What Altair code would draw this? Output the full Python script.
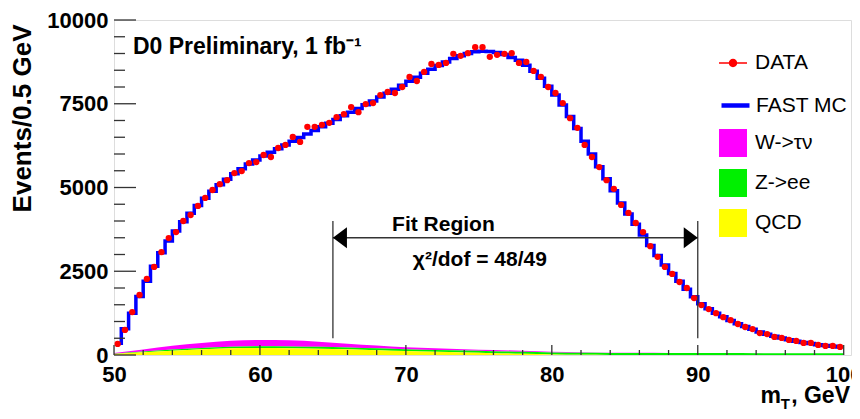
import altair as alt
import pandas as pd

# ---------------- data ----------------
bin_width = 0.5
mt_centers = [50.25 + bin_width * i for i in range(100)]

data_counts = [
    330, 750, 1280, 1790, 2270, 2630, 3070, 3490, 3670, 4000,
    4180, 4450, 4690, 4925, 5100, 5220, 5430, 5490, 5730, 5760,
    5970, 5910, 6180, 6270, 6510, 6360, 6810, 6810, 6870, 6930,
    7100, 7190, 7400, 7250, 7490, 7520, 7760, 7850, 7820, 8000,
    8300, 8180, 8450, 8690, 8660, 8720, 8990, 8930, 9010, 9190,
    9190, 8900, 8960, 8990, 9010, 8720, 8750, 8480, 8300, 8000,
    7820, 7520, 7070, 6780, 6270, 5910, 5610, 5220, 4960, 4480,
    4240, 3940, 3670, 3250, 2930, 2630, 2420, 2180, 2000, 1700,
    1490, 1370, 1250, 1130, 1040, 925, 835, 775, 655, 625,
    540, 510, 450, 420, 360, 360, 300, 270, 270, 240,
]

mc_counts = [
    350, 780, 1250, 1750, 2200, 2650, 3050, 3400, 3700, 3980,
    4230, 4460, 4680, 4890, 5080, 5250, 5410, 5560, 5700, 5820,
    5940, 6050, 6160, 6270, 6380, 6490, 6600, 6700, 6810, 6920,
    7030, 7140, 7250, 7360, 7470, 7580, 7700, 7810, 7930, 8050,
    8170, 8290, 8410, 8530, 8640, 8750, 8850, 8930, 9000, 9050,
    9070, 9060, 9030, 8970, 8880, 8800, 8650, 8470, 8260, 8020,
    7760, 7460, 7120, 6760, 6380, 6000, 5620, 5260, 4900, 4540,
    4210, 3900, 3580, 3270, 2970, 2690, 2430, 2200, 1960, 1740,
    1530, 1380, 1250, 1140, 1030, 930, 850, 770, 690, 620,
    560, 505, 455, 410, 370, 340, 305, 280, 260, 240,
]

bkg_mt = [50, 52, 54, 56, 58, 60, 62, 64, 66, 68, 70, 72, 74, 76, 78,
          80, 82, 84, 86, 88, 90, 92, 94, 96, 98, 100]
qcd = [30, 80, 130, 170, 200, 210, 205, 190, 170, 145, 120, 95, 75, 55, 35,
       15, 5, 0, 0, 0, 0, 0, 0, 0, 0, 0]
zee = [10, 25, 35, 40, 45, 50, 52, 54, 55, 55, 55, 57, 58, 59, 60,
       60, 60, 60, 60, 58, 57, 56, 55, 54, 52, 50]
wtau = [20, 60, 110, 150, 180, 190, 180, 150, 110, 80, 55, 47, 42, 37, 32,
        22, 15, 10, 8, 5, 3, 2, 1, 0, 0, 0]

bkg_names = ["W->τν", "Z->ee", "QCD"]
bkg_colors = ["#ff00ff", "#00f000", "#ffff00"]

y_major = [0, 2500, 5000, 7500, 10000]
y_minor = [500, 1000, 1500, 2000, 3000, 3500, 4000, 4500, 5500, 6000, 6500,
           7000, 8000, 8500, 9000, 9500]
x_major = [50, 60, 70, 80, 90, 100]
x_minor = [52, 54, 56, 58, 62, 64, 66, 68, 72, 74, 76, 78, 82, 84, 86, 88,
           92, 94, 96, 98]

fit_range = [65, 90]
fit_rule_low, fit_rule_high, fit_arrow_y = 500, 4000, 3500

# ---------------- layout ----------------
W, H = 737, 335
FONT = "Liberation Sans"
AX = "#333333"

xscale = alt.Scale(domain=[50, 100.5], nice=False, zero=False)
yscale = alt.Scale(domain=[0, 10000], nice=False, zero=False)

xaxis = alt.Axis(values=x_major, title=None, format="d", labelFont=FONT,
                 labelFontSize=22, labelFontWeight="bold", labelColor="black",
                 labelPadding=9, labelFlush=False, labelOverlap=False,
                 ticks=False, tickSize=0, domain=False, grid=False)
yaxis = alt.Axis(values=y_major, title="Events/0.5 GeV", format="d",
                 labelFont=FONT, labelFontSize=22, labelFontWeight="bold",
                 labelColor="black", labelPadding=6, labelOverlap=False,
                 ticks=False, tickSize=0, domain=False, grid=False,
                 titleFont=FONT, titleFontSize=26, titleFontWeight="bold",
                 titleColor="black", titleAngle=270, titleAlign="right",
                 titleBaseline="alphabetic", titleX=-84, titleY=4)


def X(f):
    return alt.X(f, type="quantitative", scale=xscale, axis=xaxis)


def Y(f, stack=None):
    if stack is None:
        return alt.Y(f, type="quantitative", scale=yscale, axis=yaxis)
    return alt.Y(f, type="quantitative", scale=yscale, axis=yaxis, stack=stack)


def legend(y, symbol, offset=8, **kw):
    return alt.Legend(orient="none", legendX=605, legendY=y, padding=0,
                      title=None, labelFont=FONT, labelFontSize=21,
                      labelColor="black", labelOffset=offset, symbolSize=784,
                      rowPadding=12, symbolType=symbol, **kw)


# ---------------- tables ----------------
bkg_rows = []
for name, vals, order in zip(bkg_names, [wtau, zee, qcd], [2, 1, 0]):
    for m, v in zip(bkg_mt, vals):
        bkg_rows.append({"mt": m, "n": v, "series": name, "ord": order})
bkg_df = pd.DataFrame(bkg_rows)

data_df = pd.DataFrame({"mt": mt_centers, "n": data_counts, "series": "DATA"})
mc_df = pd.DataFrame({"mt": mt_centers, "n": mc_counts, "series": "FAST MC"})

# ---------------- layers ----------------
bkg = alt.Chart(bkg_df).mark_area(interpolate="monotone", opacity=1).encode(
    x=X("mt"), y=Y("n", stack="zero"),
    color=alt.Color("series:N",
                    scale=alt.Scale(domain=bkg_names, range=bkg_colors),
                    legend=legend(109, "square", symbolStrokeWidth=0)),
    order=alt.Order("ord:Q"),
)

mc = alt.Chart(mc_df).mark_line(interpolate="step", strokeWidth=3.5).encode(
    x=X("mt"), y=Y("n"),
    color=alt.Color("series:N",
                    scale=alt.Scale(domain=["FAST MC"], range=["#0000ff"]),
                    legend=legend(69, "stroke", offset=4, symbolStrokeWidth=4.5)),
)

data_path = ("M-1,-0.05H1V0.05H-1Z"
             "M-0.3,0A0.3,0.3 0 1,1 0.3,0A0.3,0.3 0 1,1 -0.3,0Z")
pts = alt.Chart(data_df).mark_point(filled=True, size=40, opacity=1).encode(
    x=X("mt"), y=Y("n"),
    color=alt.Color("series:N",
                    scale=alt.Scale(domain=["DATA"], range=["#ff0000"]),
                    legend=legend(29, data_path, symbolStrokeWidth=0)),
)

# inward ticks (ROOT style) at the tick values, through the scales
ymaj = alt.Chart(pd.DataFrame({"v": y_major})).mark_rule(color=AX, strokeWidth=1.3).encode(
    y=Y("v"), x=alt.value(0), x2=alt.value(22))
ymin = alt.Chart(pd.DataFrame({"v": y_minor})).mark_rule(color=AX, strokeWidth=1.3).encode(
    y=Y("v"), x=alt.value(0), x2=alt.value(11))
xmaj = alt.Chart(pd.DataFrame({"v": x_major})).mark_rule(color=AX, strokeWidth=1.3).encode(
    x=X("v"), y=alt.value(H), y2=alt.value(H - 10))
xmin = alt.Chart(pd.DataFrame({"v": x_minor})).mark_rule(color=AX, strokeWidth=1.3).encode(
    x=X("v"), y=alt.value(H), y2=alt.value(H - 5))

# fit region annotation
fitv = alt.Chart(pd.DataFrame({"x": fit_range, "y1": [fit_rule_low] * 2,
                               "y2": [fit_rule_high] * 2})).mark_rule(
    color=AX, strokeWidth=1.3).encode(x=X("x"), y=Y("y1"), y2="y2")
fith = alt.Chart(pd.DataFrame({"x": [fit_range[0]], "x2": [fit_range[1]],
                               "y": [fit_arrow_y]})).mark_rule(
    color=AX, strokeWidth=1.5).encode(x=X("x"), x2="x2", y=Y("y"))
arrow_l = alt.Chart(pd.DataFrame({"x": [fit_range[0] + 0.48], "y": [fit_arrow_y]})).mark_point(
    shape="M-1,0L1,-1.5L1,1.5Z", size=196, filled=True, color="black", opacity=1).encode(
    x=X("x"), y=Y("y"))
arrow_r = alt.Chart(pd.DataFrame({"x": [fit_range[1] - 0.48], "y": [fit_arrow_y]})).mark_point(
    shape="M1,0L-1,-1.5L-1,1.5Z", size=196, filled=True, color="black", opacity=1).encode(
    x=X("x"), y=Y("y"))

ann_df = pd.DataFrame({
    "x": [51.3, 72.57, 75.07],
    "y": [9190, 3880, 2840],
    "t": ["D0 Preliminary, 1 fb⁻¹", "Fit Region", "χ²/dof = 48/49"],
})
ann_left = alt.Chart(ann_df.iloc[[0]]).mark_text(
    font=FONT, fontWeight="bold", fontSize=23, align="left", baseline="middle",
    color="black").encode(x=X("x"), y=Y("y"), text="t:N")
ann_mid = alt.Chart(ann_df.iloc[[1, 2]]).mark_text(
    font=FONT, fontWeight="bold", fontSize=21, align="center", baseline="middle",
    color="black").encode(x=X("x"), y=Y("y"), text="t:N")

# x title m_T, GeV
xt_df = pd.DataFrame({"t": ["m", "T", ", GeV"]})
xt_m = alt.Chart(xt_df.iloc[[0]]).mark_text(
    font=FONT, fontWeight="bold", fontSize=23, align="right", baseline="alphabetic",
    color="black").encode(x=alt.value(W - 70), y=alt.value(H + 48), text="t:N")
xt_t = alt.Chart(xt_df.iloc[[1]]).mark_text(
    font=FONT, fontWeight="bold", fontSize=15, align="right", baseline="alphabetic",
    color="black").encode(x=alt.value(W - 61), y=alt.value(H + 54), text="t:N")
xt_g = alt.Chart(xt_df.iloc[[2]]).mark_text(
    font=FONT, fontWeight="bold", fontSize=23, align="right", baseline="alphabetic",
    color="black").encode(x=alt.value(W - 1), y=alt.value(H + 48), text="t:N")

chart = alt.layer(
    bkg, mc, pts, ymaj, ymin, xmaj, xmin, fitv, fith, arrow_l, arrow_r,
    ann_left, ann_mid, xt_m, xt_t, xt_g,
).resolve_scale(color="independent").properties(
    width=W, height=H,
    autosize=alt.AutoSizeParams(type="none"),
    padding={"left": 106, "top": 12, "right": 1, "bottom": 56},
    background="white",
).configure_view(stroke=AX, strokeWidth=1.5).configure(font=FONT)

chart.save("out.html", embed_options={"renderer": "svg", "actions": False})
